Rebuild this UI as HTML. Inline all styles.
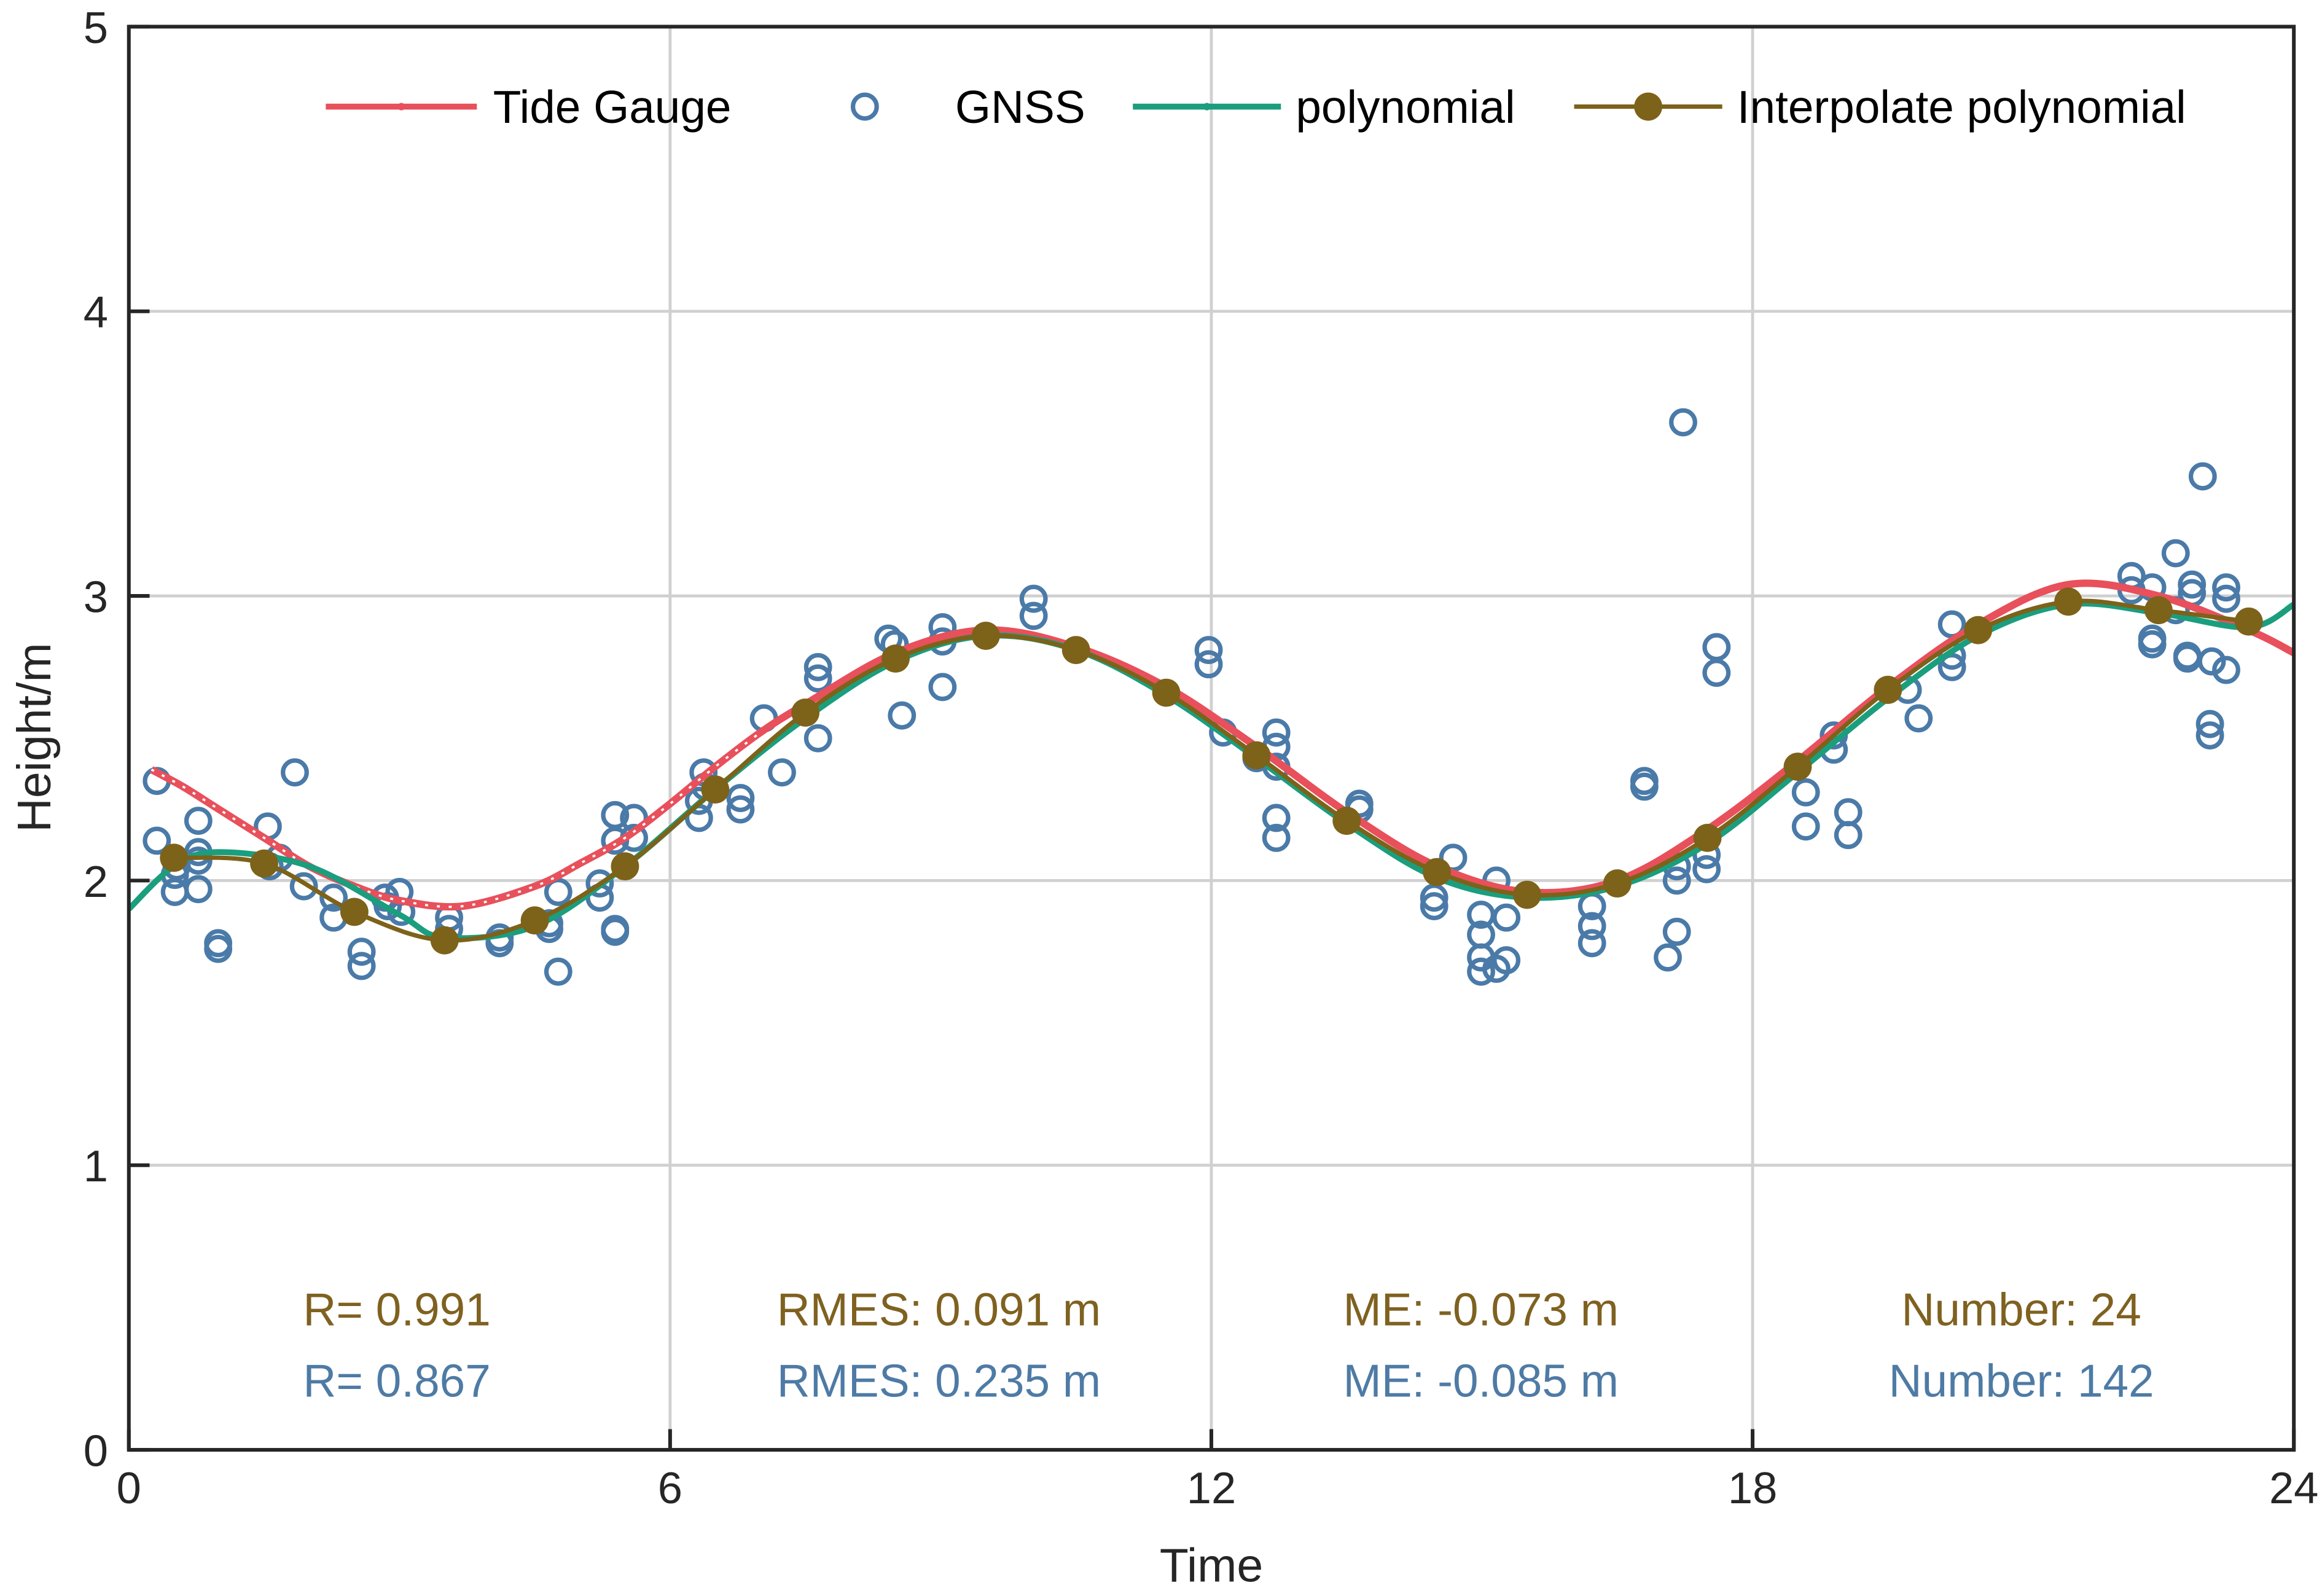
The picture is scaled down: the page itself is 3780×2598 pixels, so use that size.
<!DOCTYPE html>
<html><head><meta charset="utf-8">
<style>
html,body{margin:0;padding:0;background:#fff;}
svg{display:block;font-family:"Liberation Sans",Arial,sans-serif;}
</style></head>
<body>
<svg id="chart" width="3780" height="2598" viewBox="0 0 1568 1077.7" xmlns="http://www.w3.org/2000/svg">
<rect x="0" y="0" width="1568" height="1078" fill="#fff"/>
<g id="grid"></g>
<g id="series"></g>
<rect x="87" y="18" width="1462" height="961" fill="none" stroke="#262626" stroke-width="2.5"/>
<g id="axes"></g>
<text x="818" y="1068" text-anchor="middle" font-size="32" fill="#262626">Time</text>
<text transform="translate(34,498) rotate(-90)" text-anchor="middle" font-size="32" fill="#262626">Height/m</text>
<g font-size="31" fill="#000">
  <g>
    <line x1="220" y1="72" x2="322" y2="72" stroke="#e8505b" stroke-width="4"/>
    <circle cx="271" cy="72" r="2.5" fill="#e8505b"/>
    <text x="333" y="83">Tide Gauge</text>
  </g>
  <g>
    <circle cx="584" cy="72" r="8" fill="none" stroke="#4a7aa8" stroke-width="3"/>
    <text x="645" y="83">GNSS</text>
  </g>
  <g>
    <line x1="765" y1="72" x2="865" y2="72" stroke="#1a9e7e" stroke-width="4"/>
    <circle cx="815" cy="72" r="2.5" fill="#1a9e7e"/>
    <text x="875" y="83">polynomial</text>
  </g>
  <g>
    <line x1="1063" y1="72" x2="1163" y2="72" stroke="#7d6219" stroke-width="3"/>
    <circle cx="1113" cy="72" r="9.5" fill="#7d6219"/>
    <text x="1173" y="83">Interpolate polynomial</text>
  </g>
</g>
<g font-size="31" text-anchor="middle">
  <text x="268" y="895" fill="#7f6120">R= 0.991</text>
  <text x="268" y="943" fill="#4e7ba5">R= 0.867</text>
  <text x="634" y="895" fill="#7f6120">RMES: 0.091 m</text>
  <text x="634" y="943" fill="#4e7ba5">RMES: 0.235 m</text>
  <text x="1000" y="895" fill="#7f6120">ME: -0.073 m</text>
  <text x="1000" y="943" fill="#4e7ba5">ME: -0.085 m</text>
  <text x="1365" y="895" fill="#7f6120">Number: 24</text>
  <text x="1365" y="943" fill="#4e7ba5">Number: 142</text>
</g>
</svg>
<script>
const xTicks=[0,6,12,18,24];
const yTicks=[0,1,2,3,4,5];
const tideT=[0.25,0.6,1,1.5,2,2.5,3,3.7,4.5,5,5.5,6,6.5,7,7.5,8.5,9.5,10.5,11.5,12.5,13.5,14.5,15.5,16.5,17.5,18.5,19.5,20.5,21.5,22.5,23.5,24];
const tideH=[2.39,2.33,2.25,2.15,2.05,1.98,1.93,1.91,1.98,2.06,2.15,2.27,2.4,2.52,2.62,2.8,2.88,2.82,2.68,2.47,2.24,2.05,1.96,2.0,2.18,2.42,2.68,2.9,3.04,3.0,2.88,2.8];
const polyT=[0,0.5,1,2,3,3.5,4.5,5.5,6.5,7.5,8.5,9.5,10.5,11.5,12.5,13.5,14.5,15.5,16.5,17.5,18.5,19.5,20.5,21.5,22.5,23.5,24];
const polyH=[1.9,2.05,2.1,2.05,1.88,1.8,1.84,2.05,2.32,2.57,2.77,2.86,2.81,2.65,2.43,2.2,2.01,1.94,1.98,2.13,2.38,2.64,2.86,2.97,2.94,2.89,2.97];
const interpT=[0.5,1.5,2.5,3.5,4.5,5.5,6.5,7.5,8.5,9.5,10.5,11.5,12.5,13.5,14.5,15.5,16.5,17.5,18.5,19.5,20.5,21.5,22.5,23.5];
const interpH=[2.08,2.06,1.89,1.79,1.86,2.05,2.32,2.59,2.78,2.86,2.81,2.66,2.44,2.21,2.03,1.95,1.99,2.15,2.40,2.67,2.88,2.98,2.95,2.91];
const gnssT=[0.31,0.31,0.51,0.51,0.53,0.77,0.77,0.77,0.77,0.99,0.99,1.54,1.67,1.56,1.84,1.94,2.27,2.27,2.58,2.58,2.84,3.0,3.02,2.87,3.55,3.55,4.11,4.11,4.66,4.66,4.76,4.76,5.22,5.22,5.39,5.39,5.39,5.39,5.6,5.6,6.32,6.32,6.37,6.39,6.78,6.78,7.04,7.24,7.64,7.64,7.64,8.42,8.49,8.57,9.02,9.02,9.02,10.03,10.03,11.97,11.97,12.13,12.5,12.72,12.72,12.72,12.72,12.72,13.64,13.64,14.47,14.47,14.68,14.99,14.99,14.99,14.99,15.16,15.16,15.27,15.27,16.22,16.22,16.22,16.8,16.8,17.06,17.16,17.16,17.16,17.23,17.49,17.49,17.6,17.6,18.59,18.59,18.9,18.9,19.06,19.06,19.72,19.84,20.21,20.21,20.21,22.2,22.2,22.43,22.43,22.43,22.69,22.69,22.82,22.82,22.87,22.87,22.99,23.07,23.07,23.09,23.25,23.25,23.25];
const gnssH=[2.35,2.14,2.02,1.96,2.05,2.21,2.10,1.97,2.07,1.78,1.76,2.19,2.08,2.05,2.38,1.98,1.94,1.87,1.75,1.70,1.94,1.96,1.89,1.91,1.87,1.83,1.80,1.78,1.85,1.83,1.96,1.68,1.99,1.94,2.23,2.14,1.83,1.82,2.22,2.15,2.28,2.22,2.38,2.33,2.29,2.25,2.57,2.38,2.75,2.71,2.50,2.85,2.83,2.58,2.89,2.84,2.68,2.99,2.93,2.81,2.76,2.52,2.43,2.52,2.47,2.40,2.22,2.15,2.27,2.25,1.94,1.91,2.08,1.88,1.81,1.73,1.68,2.0,1.69,1.87,1.72,1.91,1.84,1.78,2.35,2.33,1.73,1.82,2.05,2.0,3.61,2.09,2.04,2.82,2.73,2.31,2.19,2.51,2.46,2.24,2.16,2.67,2.57,2.90,2.79,2.75,3.07,3.02,3.03,2.85,2.83,3.15,2.95,2.79,2.78,3.04,3.01,3.42,2.55,2.51,2.77,3.03,2.99,2.74];

const NS='http://www.w3.org/2000/svg';
const X0=87,X1=1549,Y0=979,Y1=18;
const sx=t=>X0+(t-0)/(24-0)*(X1-X0);
const sy=h=>Y0-(h-0)/(5-0)*(Y0-Y1);
function mk(tag,attrs,parent){const e=document.createElementNS(NS,tag);for(const k in attrs)e.setAttribute(k,attrs[k]);parent.appendChild(e);return e;}
function smoothPath(T,H){
  const p=T.map((t,i)=>[sx(t),sy(H[i])]);
  let d='M'+p[0][0]+','+p[0][1];
  for(let i=0;i<p.length-1;i++){
    const a=p[Math.max(0,i-1)],b=p[i],c=p[i+1],e=p[Math.min(p.length-1,i+2)];
    const c1=[b[0]+(c[0]-a[0])/6,b[1]+(c[1]-a[1])/6];
    const c2=[c[0]-(e[0]-b[0])/6,c[1]-(e[1]-b[1])/6];
    d+=' C'+c1+' '+c2+' '+c;
  }
  return d;
}
const grid=document.getElementById('grid'),axes=document.getElementById('axes'),ser=document.getElementById('series');
xTicks.forEach(v=>{
  if(v>0&&v<24){const g=mk('line',{x1:sx(v),x2:sx(v),y1:Y1,y2:Y0,stroke:'#d0d0d0','stroke-width':2},grid);
  
  }
  const tk=mk('line',{x1:sx(v),x2:sx(v),y1:Y0,y2:Y0-14,stroke:'#262626','stroke-width':2.5},axes);
  
  
  const lb=mk('text',{x:sx(v),y:Y0+36,'text-anchor':'middle','font-size':30,fill:'#262626'},axes);
  lb.textContent=v;
  
  
});
yTicks.forEach(v=>{
  if(v>0&&v<5){const g=mk('line',{x1:X0,x2:X1,y1:sy(v),y2:sy(v),stroke:'#d0d0d0','stroke-width':2},grid);
  
  }
  const tk=mk('line',{x1:X0,x2:X0+14,y1:sy(v),y2:sy(v),stroke:'#262626','stroke-width':2.5},axes);
  
  
  const lb=mk('text',{x:X0-14,y:sy(v)+11,'text-anchor':'end','font-size':30,fill:'#262626'},axes);
  lb.textContent=v;
  
  
});
const clip=mk('clipPath',{id:'pc'},ser);mk('rect',{x:X0,y:Y1,width:X1-X0,height:Y0-Y1},clip);
ser.setAttribute('clip-path','url(#pc)');
gnssT.forEach((t,i)=>{
  const c=mk('circle',{cx:sx(t),cy:sy(gnssH[i]),r:8,fill:'none',stroke:'#4a7aa8','stroke-width':3},ser);
  
  
});
const tl=mk('path',{d:smoothPath(tideT,tideH),fill:'none',stroke:'#e8505b','stroke-width':5},ser);


const tl2=mk('path',{d:smoothPath(tideT.slice(0,14),tideH.slice(0,14)),fill:'none',stroke:'#fff','stroke-width':1.5,'stroke-dasharray':'2 6'},ser);


const pl=mk('path',{d:smoothPath(polyT,polyH),fill:'none',stroke:'#1a9e7e','stroke-width':4},ser);


const il=mk('path',{d:smoothPath(interpT,interpH),fill:'none',stroke:'#7d6219','stroke-width':3},ser);


interpT.forEach((t,i)=>{
  const c=mk('circle',{cx:sx(t),cy:sy(interpH[i]),r:9.5,fill:'#7d6219'},ser);
  
  
});
</script>
</body></html>
